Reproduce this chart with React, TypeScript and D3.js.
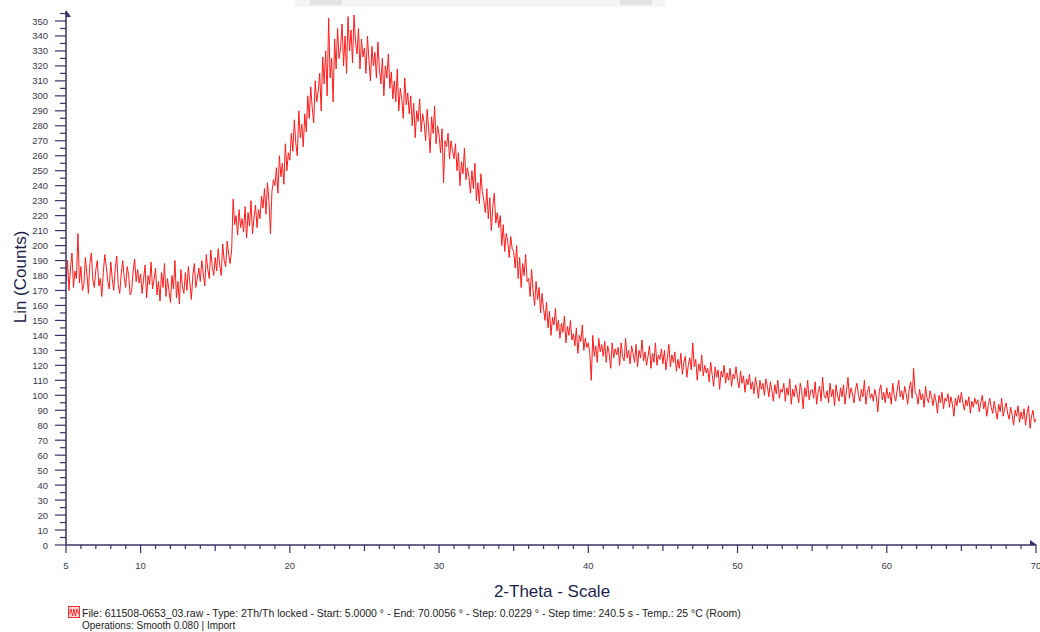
import React from 'react';
import * as d3 from 'd3';

// Scan parameters (2-Theta, degrees)
const thetaStart = 5;
const thetaStep = 0.1;

// Lin (Counts), one row per degree (5.0 .. 70.0)
const counts: number[] = [
  176, 190, 170, 185, 195, 172, 183, 178, 208, 175,
  186, 170, 174, 192, 181, 168, 188, 195, 177, 172,
  184, 190, 173, 178, 166, 182, 194, 186, 176, 171,
  189, 178, 170, 185, 193, 174, 168, 181, 190, 179,
  172, 186, 180, 167, 170, 183, 191, 176, 184, 175,
  181, 168, 178, 187, 165, 180, 174, 189, 171, 177,
  185, 167, 176, 163, 182, 172, 188, 166, 178, 170,
  162, 180, 171, 190, 165, 176, 161, 184, 173, 168,
  182, 170, 186, 175, 164, 180, 188, 172, 178, 185,
  176, 190, 181, 173, 194, 184, 178, 197, 186, 180,
  192, 183, 198, 187, 180, 201, 190, 186, 203, 194,
  188, 197, 231, 214, 220, 207, 224, 212, 218, 209,
  226, 205, 222, 213, 230, 208, 219, 227, 212, 224,
  218, 233, 225, 238, 221, 242, 230, 208, 236, 244,
  240, 252, 235, 260, 246, 255, 241, 268, 250, 262,
  257, 275, 263, 284, 268, 260, 290, 272, 281, 266,
  288, 276, 300, 285, 306, 292, 282, 310, 296, 303,
  315, 290, 326, 308, 330, 300, 352, 312, 325, 296,
  338, 318, 345, 325, 332, 348, 320, 340, 315, 353,
  330, 344, 322, 354, 336, 328, 345, 318, 338, 326,
  332, 315, 340, 324, 310, 333, 320, 329, 312, 336,
  318, 308, 325, 300, 320, 312, 328, 305, 316, 298,
  310, 296, 318, 290, 305, 298, 285, 312, 294, 302,
  288, 300, 280, 295, 272, 290, 283, 298, 276, 288,
  282, 270, 291, 278, 262, 286, 275, 293, 268, 280,
  274, 262, 278, 242, 270, 266, 275, 258, 270, 263,
  258, 268, 250, 262, 240, 256, 248, 265, 244, 252,
  246, 235, 250, 238, 255, 230, 242, 228, 248, 236,
  230, 222, 238, 218, 232, 210, 226, 235, 215, 222,
  212, 220, 200, 214, 196, 208, 203, 192, 206, 198,
  196, 185, 200, 178, 192, 172, 188, 180, 194, 176,
  178, 166, 184, 170, 160, 176, 164, 172, 155, 168,
  158, 150, 162, 145, 156, 140, 152, 147, 158, 143,
  150, 138, 148, 142, 153, 135, 146, 140, 150, 137,
  141, 133, 145, 128, 140, 136, 147, 130, 138, 132,
  135, 128, 110, 140, 126, 133, 122, 138, 129, 134,
  126, 136, 122, 133, 128, 118, 135, 125, 131, 127,
  132, 120, 135, 126, 123, 138, 125, 130, 121, 133,
  128, 122, 134, 119, 130, 125, 137, 123, 129, 120,
  126, 133, 118, 128, 122, 135, 120, 127, 124, 131,
  121, 130, 117, 125, 134, 119, 127, 122, 129, 116,
  124, 118, 128, 114, 122, 126, 112, 120, 125, 117,
  135, 119, 124, 110, 121, 116, 127, 113, 120, 115,
  118, 109, 122, 114, 106, 119, 112, 117, 104, 116,
  112, 120, 108, 115, 110, 118, 106, 114, 111, 119,
  110, 105, 116, 108, 113, 102, 111, 107, 114, 104,
  109, 101, 112, 106, 98, 110, 104, 108, 100, 111,
  106, 99, 109, 103, 96, 107, 101, 110, 98, 104,
  102, 108, 96, 105, 100, 111, 94, 104, 99, 107,
  101, 95, 108, 103, 91, 105, 99, 110, 97, 103,
  104, 98, 109, 94, 102, 106, 96, 112, 100, 98,
  103, 95, 108, 99, 104, 93, 107, 100, 96, 105,
  99, 107, 94, 103, 112, 98, 105, 101, 95, 104,
  108, 100, 96, 104, 99, 110, 94, 102, 106, 98,
  101, 96, 104, 99, 89, 103, 107, 97, 102, 95,
  105, 98, 102, 94, 108, 100, 96, 104, 110, 99,
  103, 97, 106, 101, 94, 104, 109, 98, 118, 102,
  100, 94, 104, 97, 101, 92, 106, 98, 95, 103,
  99, 93, 101, 96, 88, 100, 95, 102, 91, 98,
  96, 101, 92, 99, 94, 86, 98, 93, 100, 95,
  102, 95, 90, 97, 93, 99, 88, 96, 92, 98,
  94, 97, 89, 95, 100, 91, 96, 86, 93, 98,
  92, 88, 96, 90, 84, 94, 89, 98, 86, 91,
  95, 88, 84, 92, 87, 80, 90, 86, 93, 82,
  89, 84, 91, 80, 88, 93, 78, 86, 90, 82,
  84,
];

const xTickLabels = [5, 10, 20, 30, 40, 50, 60, 70];
const yTickLabels = [0, 10, 20, 30, 40, 50, 60, 70, 80, 90, 100, 110, 120, 130, 140, 150, 160, 170, 180,
  190, 200, 210, 220, 230, 240, 250, 260, 270, 280, 290, 300, 310, 320, 330, 340, 350];

const xTitle = '2-Theta - Scale';
const yTitle = 'Lin (Counts)';
const legendLine1 = 'File: 611508-0653_03.raw - Type: 2Th/Th locked - Start: 5.0000 ° - End: 70.0056 ° - Step: 0.0229 ° - Step time: 240.5 s - Temp.: 25 °C (Room)';
const legendLine2 = 'Operations: Smooth 0.080 | Import';

const W = 1040;
const H = 632;
const FONT = "'Liberation Sans', Arial, sans-serif";
const AXIS = '#34346a';

export default function App() {
  const x = d3.scaleLinear().domain([5, 70]).range([66, 1036]);
  const y = d3.scaleLinear().domain([0, 350]).range([545, 21]);

  const line = d3.line<number>()
    .x((_, i) => x(thetaStart + i * thetaStep))
    .y((d) => y(d));
  const path = line(counts) || '';

  const xMinor = d3.range(5, 71, 1);
  const yMinor = d3.range(5, 356, 10);

  const x0 = x(5);
  const yBase = y(0);

  return (
    <svg width={W} height={H} style={{ position: 'absolute', left: 0, top: 0, background: '#fff' }}
      xmlns="http://www.w3.org/2000/svg">
      <rect x={0} y={0} width={W} height={H} fill="#fff" />
      {/* faint top strip */}
      <rect x={295} y={0} width={370} height={7} fill="#f5f5f5" />
      <rect x={310} y={0} width={32} height={5} fill="#e4e4e4" />
      <rect x={620} y={0} width={32} height={5} fill="#e4e4e4" />

      {/* data line */}
      <path d={path} fill="none" stroke="#ff1a1a" strokeWidth={1} strokeLinejoin="round" />

      {/* y axis */}
      <line x1={x0} x2={x0} y1={yBase} y2={11} stroke={AXIS} strokeWidth={1.5} />
      <polygon points={`${x0},10 ${x0 + 5},17 ${x0},17`} fill={AXIS} />
      {yTickLabels.map((v) => (
        <g key={'yt' + v}>
          <line x1={x0 - 11} x2={x0} y1={y(v)} y2={y(v)} stroke={AXIS} strokeWidth={1.2} />
          <text x={x0 - 18} y={y(v) + 3.5} textAnchor="end" fontFamily={FONT} fontSize={9.5} fill="#3a3a4a">{v}</text>
        </g>
      ))}
      {yMinor.map((v) => (
        <line key={'ym' + v} x1={x0 - 6} x2={x0} y1={y(v)} y2={y(v)} stroke={AXIS} strokeWidth={1.2} />
      ))}

      {/* x axis */}
      <line x1={x0} x2={x(70)} y1={yBase} y2={yBase} stroke={AXIS} strokeWidth={1.5} />
      <polygon points={`${x(70) - 6},540 ${x(70) + 1},545 ${x(70) - 6},545`} fill={AXIS} />
      {xMinor.map((v) => {
        const major = xTickLabels.includes(v);
        const mid = v % 5 === 0;
        const len = major ? 8 : mid ? 6 : 4;
        return <line key={'xm' + v} x1={x(v)} x2={x(v)} y1={yBase} y2={yBase + len} stroke={AXIS} strokeWidth={1.2} />;
      })}
      {xTickLabels.map((v) => (
        <text key={'xl' + v} x={x(v)} y={569} textAnchor="middle" fontFamily={FONT} fontSize={9.5} fill="#3a3a4a">{v}</text>
      ))}

      {/* titles */}
      <text x={552} y={597} textAnchor="middle" fontFamily={FONT} fontSize={17} fill="#1e1e4a">{xTitle}</text>
      <text transform={`translate(26,277) rotate(-90)`} textAnchor="middle" fontFamily={FONT} fontSize={17} fill="#1e1e4a">{yTitle}</text>

      {/* legend */}
      <rect x={68.5} y={606.5} width={11} height={11} fill="#ffd6d6" stroke="#ff3030" strokeWidth={1} />
      <polyline points="69,614 71,609 72.5,616 74,609 75.5,616 77,609 79,614" fill="none" stroke="#ff2020" strokeWidth={0.9} />
      <text x={82} y={617} fontFamily={FONT} fontSize={10.5} fill="#222">{legendLine1}</text>
      <text x={82} y={629} fontFamily={FONT} fontSize={10} fill="#222">{legendLine2}</text>
    </svg>
  );
}
